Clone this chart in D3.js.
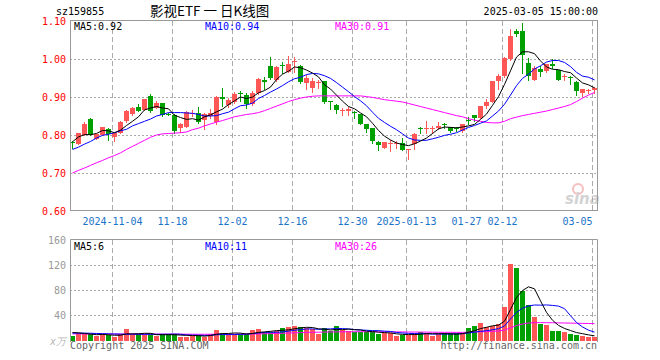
<!DOCTYPE html>
<html>
<head>
<meta charset="utf-8">
<script src="https://cdn.jsdelivr.net/npm/d3@7"></script>
<style>
    body { margin: 0; background: #fff; }
    svg { display: block; }
    text { font-family: "DejaVu Sans Mono", monospace; font-size: 10px; }
</style>
</head>
<body>
<div id="chart"></div>
<script>
// K-LINE CHART (daily) with volume panel

// Data

var dates = [
    "2024-10-24","2024-10-25","2024-10-28","2024-10-29","2024-10-30","2024-10-31","2024-11-01",
    "2024-11-04","2024-11-05","2024-11-06","2024-11-07","2024-11-08","2024-11-11","2024-11-12",
    "2024-11-13","2024-11-14","2024-11-15","2024-11-18","2024-11-19","2024-11-20","2024-11-21",
    "2024-11-22","2024-11-25","2024-11-26","2024-11-27","2024-11-28","2024-11-29","2024-12-02",
    "2024-12-03","2024-12-04","2024-12-05","2024-12-06","2024-12-09","2024-12-10","2024-12-11",
    "2024-12-12","2024-12-13","2024-12-16","2024-12-17","2024-12-18","2024-12-19","2024-12-20",
    "2024-12-23","2024-12-24","2024-12-25","2024-12-26","2024-12-27","2024-12-30","2024-12-31",
    "2025-01-02","2025-01-03","2025-01-06","2025-01-07","2025-01-08","2025-01-09","2025-01-10",
    "2025-01-13","2025-01-14","2025-01-15","2025-01-16","2025-01-17","2025-01-20","2025-01-21",
    "2025-01-22","2025-01-23","2025-01-24","2025-01-27","2025-02-05","2025-02-06","2025-02-07",
    "2025-02-10","2025-02-11","2025-02-12","2025-02-13","2025-02-14","2025-02-17","2025-02-18",
    "2025-02-19","2025-02-20","2025-02-21","2025-02-24","2025-02-25","2025-02-26","2025-02-27",
    "2025-02-28","2025-03-03","2025-03-04","2025-03-05"
];

var openP = [
    0.782,0.776,0.801,0.843,0.790,0.800,0.816,0.794,0.805,0.836,
    0.854,0.874,0.867,0.902,0.872,0.884,0.856,0.853,0.818,0.822,
    0.857,0.859,0.840,0.850,0.833,0.899,0.878,0.886,0.910,0.905,
    0.882,0.910,0.944,0.982,0.945,0.985,0.967,0.991,0.982,0.936,
    0.925,0.936,0.941,0.889,0.880,0.863,0.864,0.860,0.855,0.829,
    0.818,0.782,0.766,0.778,0.776,0.779,0.760,0.775,0.818,0.817,
    0.817,0.818,0.828,0.821,0.819,0.810,0.840,0.852,0.846,0.876,
    0.888,0.942,0.954,0.999,1.073,1.075,0.990,0.946,0.973,0.968,
    0.988,0.970,0.952,0.952,0.940,0.911,0.917,0.918
];
var highP = [
    0.784,0.806,0.833,0.844,0.803,0.822,0.818,0.806,0.836,0.866,
    0.874,0.882,0.896,0.908,0.890,0.885,0.857,0.855,0.832,0.862,
    0.866,0.875,0.857,0.868,0.902,0.924,0.898,0.914,0.915,0.910,
    0.916,0.950,0.953,1.004,0.982,0.991,1.009,1.005,0.984,0.958,
    0.950,0.944,0.942,0.889,0.881,0.871,0.875,0.864,0.856,0.830,
    0.819,0.783,0.782,0.788,0.783,0.792,0.763,0.805,0.820,0.838,
    0.823,0.834,0.831,0.822,0.822,0.830,0.847,0.853,0.877,0.896,
    0.943,0.961,1.004,1.078,1.080,1.096,1.003,0.981,0.982,0.988,
    0.999,0.971,0.960,0.955,0.942,0.921,0.922,0.926
];
var lowP = [
    0.767,0.775,0.800,0.800,0.789,0.799,0.786,0.785,0.804,0.835,
    0.852,0.862,0.865,0.861,0.870,0.851,0.852,0.805,0.808,0.820,
    0.850,0.832,0.815,0.845,0.828,0.876,0.875,0.884,0.890,0.872,
    0.879,0.908,0.920,0.948,0.943,0.962,0.965,0.967,0.937,0.922,
    0.912,0.925,0.885,0.869,0.858,0.853,0.852,0.845,0.828,0.807,
    0.780,0.761,0.765,0.757,0.766,0.760,0.738,0.762,0.805,0.805,
    0.805,0.817,0.818,0.808,0.810,0.809,0.830,0.837,0.845,0.872,
    0.887,0.921,0.953,0.997,1.060,0.962,0.946,0.945,0.955,0.966,
    0.977,0.944,0.946,0.933,0.905,0.903,0.910,0.911
];
var closeP = [
    0.780,0.805,0.830,0.801,0.802,0.821,0.803,0.804,0.835,0.864,
    0.872,0.864,0.895,0.862,0.883,0.853,0.854,0.810,0.830,0.860,
    0.859,0.834,0.855,0.858,0.900,0.894,0.891,0.909,0.907,0.881,
    0.911,0.948,0.940,0.950,0.980,0.981,0.988,0.995,0.940,0.949,
    0.943,0.939,0.888,0.887,0.866,0.865,0.869,0.858,0.830,0.817,
    0.783,0.773,0.781,0.780,0.778,0.761,0.762,0.803,0.816,0.819,
    0.819,0.824,0.826,0.810,0.817,0.829,0.838,0.844,0.876,0.888,
    0.942,0.954,1.003,1.060,1.066,1.010,0.955,0.977,0.967,0.986,
    0.982,0.946,0.954,0.950,0.916,0.920,0.919,0.925
];

var ma5 = [
    0.782,0.795,0.801,0.801,0.804,0.812,0.811,0.806,0.813,0.825,
    0.836,0.848,0.866,0.871,0.875,0.871,0.869,0.852,0.846,0.841,
    0.843,0.839,0.848,0.853,0.861,0.868,0.880,0.890,0.900,0.896,
    0.900,0.911,0.917,0.926,0.946,0.960,0.968,0.979,0.977,0.971,
    0.963,0.953,0.932,0.921,0.905,0.889,0.875,0.869,0.858,0.848,
    0.831,0.812,0.797,0.787,0.779,0.775,0.772,0.777,0.784,0.792,
    0.804,0.816,0.821,0.820,0.819,0.821,0.824,0.828,0.841,0.855,
    0.878,0.901,0.933,0.969,1.005,1.019,1.019,1.014,0.995,0.979,
    0.973,0.972,0.967,0.964,0.950,0.937,0.932,0.924
];
var ma10 = [
    0.762,0.768,0.776,0.783,0.792,0.799,0.802,0.806,0.811,0.815,
    0.824,0.830,0.836,0.842,0.850,0.854,0.859,0.859,0.859,0.858,
    0.857,0.854,0.850,0.850,0.851,0.856,0.860,0.869,0.877,0.879,
    0.884,0.896,0.904,0.913,0.921,0.930,0.940,0.948,0.952,0.959,
    0.962,0.961,0.956,0.949,0.938,0.926,0.914,0.901,0.890,0.877,
    0.860,0.844,0.833,0.823,0.814,0.803,0.792,0.787,0.786,0.786,
    0.790,0.794,0.799,0.802,0.806,0.813,0.820,0.825,0.831,0.837,
    0.850,0.863,0.881,0.905,0.930,0.949,0.960,0.974,0.982,0.992,
    0.996,0.996,0.991,0.980,0.965,0.955,0.952,0.945
];
var ma30 = [
    0.700,0.707,0.713,0.720,0.727,0.733,0.740,0.746,0.753,0.762,
    0.770,0.778,0.786,0.794,0.800,0.803,0.804,0.805,0.806,0.808,
    0.814,0.818,0.824,0.829,0.834,0.838,0.843,0.848,0.851,0.854,
    0.856,0.859,0.864,0.870,0.876,0.882,0.888,0.893,0.897,0.900,
    0.902,0.903,0.903,0.903,0.903,0.903,0.903,0.903,0.903,0.901,
    0.899,0.896,0.893,0.891,0.889,0.887,0.883,0.879,0.875,0.871,
    0.867,0.863,0.859,0.855,0.851,0.848,0.843,0.839,0.836,0.833,
    0.832,0.832,0.836,0.843,0.847,0.851,0.854,0.857,0.860,0.863,
    0.867,0.871,0.875,0.880,0.888,0.897,0.905,0.912
];

var volume = [
    6.5,11.5,9,9,6.5,9,8,5.5,9,17.5,
    9,9,9,9,6.5,9,9,9,5.5,5.5,
    6.5,8,5.5,10,16,12,9,9,9,9,
    16,17.5,13.5,13.5,14.5,19,20.5,22.5,20.5,19,
    17.5,10,19,15,23,16,14.5,13.5,13.5,13.5,
    12.5,9.5,10.5,10.5,6.5,8,8,10.5,13,12,
    6.5,9,10.5,10.5,10.5,10.5,20,22.5,28,20.5,
    22.5,26,53.5,122,116,78,56,37.5,25.5,24,
    15,15,13,9,7.5,6,5.5,5.5
];
var vma5 = [
    12,11.5,10.5,9.5,8.5,9.0,8.3,7.6,7.6,9.8,
    9.8,10,10.7,10.7,8.5,8.5,8.5,8.5,7.8,7.6,
    7.1,6.9,6.2,7.1,9.2,10.3,10.5,11.2,11,9.6,
    10.4,12.1,13,13.9,15,15.6,16.2,18,19.4,20.3,
    20,17.9,17.2,16.1,16.9,16.6,17.5,16.4,16.1,14.2,
    13.5,12.5,11.9,11.3,9.9,9,8.7,8.7,9.2,10.3,
    10,10.2,10.2,9.7,9.4,10.2,12.4,14.8,18.3,20.3,
    22.7,23.9,30.1,48.9,68,79.1,85.1,81.9,62.6,44.2,
    31.6,23.4,18.5,15.2,11.9,10.1,8.2,6.7
];
var vma10 = [
    11,11,11,10.8,10.5,10.2,9.9,9.6,9.4,9.15,
    9.4,9.15,9.15,9.15,9.15,9.15,9.25,9.6,9.25,8.05,
    7.8,7.7,7.35,7.45,8.4,8.7,8.7,8.7,9.05,9.4,
    10.35,11.3,12.1,12.45,12.3,13,14.15,15.5,16.65,17.65,
    17.8,17.05,17.6,17.75,18.6,18.3,17.7,16.8,16.1,15.55,
    15.05,15,14.15,13.7,12.05,11.25,10.6,10.3,10.25,10.1,
    9.5,9.45,9.45,9.45,9.85,10.1,11.3,12.5,14,14.85,
    16.45,18.15,22.45,33.6,44.15,50.9,54.5,56,55.75,56.1,
    55.35,54.25,50.2,38.9,28.05,20.85,15.8,12.6
];
var vma30 = [
    9.8,9.8,9.7,9.7,9.7,9.6,9.6,9.6,9.5,9.5,
    9.5,9.5,9.5,9.5,9.4,9.4,9.4,9.3,9.3,9.3,
    9.2,9.2,9.2,9.2,9.3,9.3,9.3,9.3,9.4,9.4,
    9.6,9.8,10.0,10.2,10.5,10.8,11.1,11.5,11.8,12.1,
    12.4,12.5,12.7,12.8,13.0,13.1,13.2,13.2,13.3,13.3,
    13.3,13.2,13.2,13.1,13.0,12.9,12.8,12.7,12.7,12.6,
    12.5,12.4,12.3,12.3,12.2,12.2,12.5,12.8,13.2,13.5,
    13.9,14.4,15.8,19.5,23.2,25.6,27.2,27.8,27.8,27.7,
    27.6,27.4,27.2,27.0,26.8,26.6,26.4,26.2
];

var tickDates  = ["2024-11-04","2024-11-18","2024-12-02","2024-12-16","2024-12-30","2025-01-13","2025-01-27","2025-02-12","2025-03-05"];
var tickLabels = ["2024-11-04","11-18","12-02","12-16","12-30","2025-01-13","01-27","02-12","03-05"];
var priceTicks = [0.60, 0.70, 0.80, 0.90, 1.00, 1.10];
var volTicks   = [40, 80, 120, 160];

// Chart variables

var width = 660, height = 360;
var left = 70, right = 597;
var priceTop = 21, priceBottom = 211;
var volTop = 240, volBottom = 340;

var UP = "#ff5656", DOWN = "#00a000", GRID = "#aaaaaa";

var svg = d3.select("#chart")
            .append("svg")
            .attr("width", width)
            .attr("height", height);

// Scales

var x = d3.scaleBand()
          .domain(dates)
          .range([69.5, 597.5]);                                  // 6px per trading day

var y = d3.scaleLinear()
          .domain([0.6, 1.1])
          .range([priceBottom, priceTop]);

var yv = d3.scaleLinear()
           .domain([0, 160])
           .range([volBottom, volTop]);

function cx(i) { return x(dates[i]) + 3; }                     // candle centre
function snap(v) { return Math.round(v) + 0.5; }

// Header

svg.append("text").attr("x", 56).attr("y", 15).attr("fill", "#000").text("sz159855");
svg.append("text").attr("x", 150).attr("y", 16)
   .style("font-family", "'Noto Sans CJK SC'").style("font-size", "13.5px")
   .attr("fill", "#000").text("影视ETF 一 日K线图");
svg.append("text").attr("x", 598).attr("y", 15).attr("text-anchor", "end")
   .attr("fill", "#000").text("2025-03-05 15:00:00");

// Sina watermark

var mark = svg.append("g").attr("opacity", 0.55);
mark.append("circle").attr("cx", 578).attr("cy", 189).attr("r", 5)
    .attr("fill", "none").attr("stroke", "#f08a8a").attr("stroke-width", 2);
mark.append("text").attr("x", 565).attr("y", 204)
    .style("font-family", "'DejaVu Sans'").style("font-size", "15px")
    .style("font-weight", "bold").style("font-style", "italic")
    .attr("fill", "#b0b0b0").text("sina");

// Grid lines

priceTicks.slice(1, 5).forEach(function(t) {
    svg.append("line")
       .attr("x1", left).attr("x2", right)
       .attr("y1", snap(y(t))).attr("y2", snap(y(t)))
       .attr("stroke", GRID).attr("stroke-dasharray", "2,2");
});
volTicks.slice(0, 3).forEach(function(t) {
    svg.append("line")
       .attr("x1", left).attr("x2", right)
       .attr("y1", snap(yv(t))).attr("y2", snap(yv(t)))
       .attr("stroke", GRID).attr("stroke-dasharray", "2,2");
});
tickDates.forEach(function(d) {
    var gx = Math.floor(x(d) + 1) + 0.5;
    [[priceTop, priceBottom], [volTop, volBottom]].forEach(function(r) {
        svg.append("line")
           .attr("x1", gx).attr("x2", gx)
           .attr("y1", r[0]).attr("y2", r[1])
           .attr("stroke", GRID).attr("stroke-dasharray", "5,3");
    });
});

// Candles

var candles = svg.append("g");
dates.forEach(function(d, i) {
    var o = openP[i], c = closeP[i];
    var col = c >= o ? UP : DOWN;
    var top = Math.round(y(Math.max(o, c)));
    var bot = Math.round(y(Math.min(o, c)));
    candles.append("line")
           .attr("x1", Math.floor(cx(i)) + 0.5).attr("x2", Math.floor(cx(i)) + 0.5)
           .attr("y1", Math.round(y(highP[i]))).attr("y2", Math.round(y(lowP[i])) + 1)
           .attr("stroke", col);
    candles.append("rect")
           .attr("x", Math.round(x(d) + 0.5)).attr("width", 5)
           .attr("y", top).attr("height", Math.max(1, bot - top))
           .attr("fill", col);
});

// Volume bars

svg.append("g").selectAll("rect")
   .data(volume)
   .enter()
   .append("rect")
   .attr("x", function(v, i) { return Math.round(x(dates[i]) + 0.5); })
   .attr("width", 5)
   .attr("y", function(v) { return Math.round(yv(v)); })
   .attr("height", function(v) { return volBottom + 1 - Math.round(yv(v)); })
   .attr("fill", function(v, i) { return closeP[i] >= openP[i] ? UP : DOWN; });

// Moving averages

function drawLine(values, scale, colour) {
    var line = d3.line()
                 .x(function(v, i) { return cx(i); })
                 .y(function(v) { return scale(v); });
    svg.append("path")
       .datum(values)
       .attr("d", line)
       .attr("fill", "none")
       .attr("stroke", colour)
       .attr("stroke-width", 1);
}
drawLine(ma30, y, "#ff00ff");
drawLine(ma10, y, "#0000ff");
drawLine(ma5, y, "#000000");
drawLine(vma30, yv, "#ff00ff");
drawLine(vma10, yv, "#0000ff");
drawLine(vma5, yv, "#000000");

// Frames

svg.append("rect").attr("x", left + 0.5).attr("y", priceTop - 0.5)
   .attr("width", right - left).attr("height", priceBottom - priceTop)
   .attr("fill", "none").attr("stroke", "#999");
svg.append("path")
   .attr("d", "M" + (left + 0.5) + "," + (volBottom + 2) + "V" + (volTop - 0.5) +
              "H" + (right + 0.5) + "V" + (volBottom + 2))
   .attr("fill", "none").attr("stroke", "#999");

// Axes labels

var priceAxis = svg.append("g")
   .attr("transform", "translate(" + left + ",0.5)")
   .call(d3.axisLeft(y).tickValues(priceTicks).tickSize(0).tickPadding(4)
           .tickFormat(d3.format(".2f")));
priceAxis.select(".domain").remove();
priceAxis.selectAll("text").attr("fill", "#ff0000")
   .style("font-family", "'DejaVu Sans Mono'").style("font-size", "10px");

var volAxis = svg.append("g")
   .attr("transform", "translate(" + left + ",0.5)")
   .call(d3.axisLeft(yv).tickValues(volTicks).tickSize(0).tickPadding(4));
volAxis.select(".domain").remove();
volAxis.selectAll("text").attr("fill", "#999")
   .style("font-family", "'DejaVu Sans Mono'").style("font-size", "10px");

svg.append("text").attr("x", 66).attr("y", 345).attr("text-anchor", "end")
   .attr("fill", "#b8b8b8").style("font-style", "italic").text("x万");

tickDates.forEach(function(d, k) {
    var last = k === tickDates.length - 1;
    svg.append("text")
       .attr("x", x(d) + 1)
       .attr("y", 225)
       .attr("text-anchor", last ? "end" : "middle")
       .attr("fill", "#1a73c8")
       .text(tickLabels[k]);
});

// Legends

var legends = [
    ["MA5:0.92", "#000", 74, 30], ["MA10:0.94", "#0000ff", 205, 30], ["MA30:0.91", "#ff00ff", 335, 30],
    ["MA5:6", "#000", 74, 250], ["MA10:11", "#0000ff", 205, 250], ["MA30:26", "#ff00ff", 335, 250]
];
legends.forEach(function(l) {
    svg.append("text").attr("x", l[2]).attr("y", l[3]).attr("fill", l[1]).text(l[0]);
});

// Footer

svg.append("text").attr("x", 70).attr("y", 349).attr("fill", "#666").text("Copyright 2025 SINA.COM");
svg.append("text").attr("x", 597).attr("y", 349).attr("text-anchor", "end")
   .attr("fill", "#666").text("http://finance.sina.com.cn");
</script>
</body>
</html>
